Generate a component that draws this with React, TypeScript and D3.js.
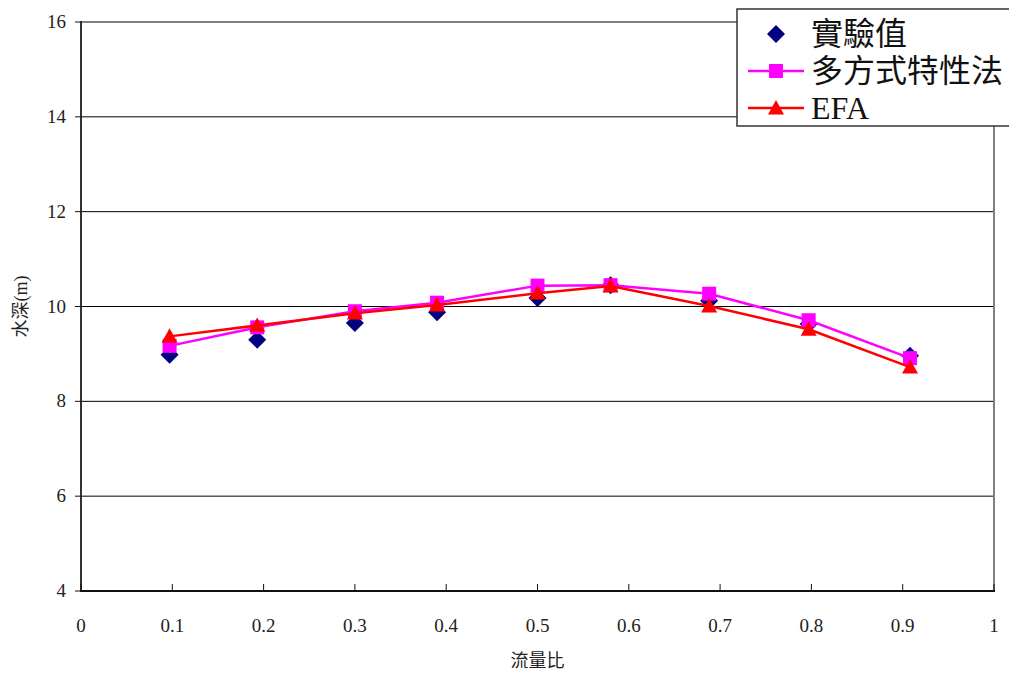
import * as d3 from 'd3'

const flowRatio = [0.097, 0.193, 0.3, 0.39, 0.5, 0.58, 0.688, 0.797, 0.908]
const measured = [8.98, 9.3, 9.65, 9.88, 10.18, 10.45, 10.12, 9.63, 8.96]
const polyMethod = [9.17, 9.56, 9.9, 10.08, 10.44, 10.45, 10.27, 9.71, 8.91]
const efa = [9.37, 9.6, 9.86, 10.03, 10.28, 10.43, 10.01, 9.52, 8.72]
const xTicks = [0, 0.1, 0.2, 0.3, 0.4, 0.5, 0.6, 0.7, 0.8, 0.9, 1]
const yTicks = [4, 6, 8, 10, 12, 14, 16]
const legendLabels = ['實驗值', '多方式特性法', 'EFA']

const W = 1009
const H = 674
const PLOT = { left: 81, right: 994, top: 22, bottom: 591 }
const FONT = '"Liberation Serif", "Noto Sans CJK TC", serif'

export default function App() {
  const x = d3.scaleLinear().domain([0, 1]).range([PLOT.left, PLOT.right])
  const y = d3.scaleLinear().domain([4, 16]).range([PLOT.bottom, PLOT.top])

  const line = d3.line<number>()
    .x((_, i) => x(flowRatio[i]))
    .y(d => y(d))

  const diamond = (cx: number, cy: number, r: number) =>
    `M${cx},${cy - r}L${cx + r},${cy}L${cx},${cy + r}L${cx - r},${cy}Z`
  const triangle = (cx: number, cy: number, r: number) =>
    `M${cx},${cy - r}L${cx + r},${cy + r * 0.8}L${cx - r},${cy + r * 0.8}Z`

  const legendY = [34, 71, 108]

  return (
    <svg width={W} height={H} style={{ position: 'absolute', left: 0, top: 0, background: '#fff' }}>
      {/* 그리드 */}
      {yTicks.filter(t => t > 4 && t < 16).map(t => (
        <line key={t} x1={PLOT.left} x2={PLOT.right} y1={y(t)} y2={y(t)} stroke="#000" strokeWidth={1} />
      ))}
      {/* 테두리 (위/오른쪽) */}
      <line x1={PLOT.left} x2={PLOT.right} y1={PLOT.top} y2={PLOT.top} stroke="#808080" strokeWidth={2} />
      <line x1={PLOT.right} x2={PLOT.right} y1={PLOT.top} y2={PLOT.bottom} stroke="#808080" strokeWidth={2} />
      {/* 축 */}
      <line x1={PLOT.left} x2={PLOT.left} y1={PLOT.top - 1} y2={PLOT.bottom + 1} stroke="#333" strokeWidth={2} />
      <line x1={PLOT.left} x2={PLOT.right + 1} y1={PLOT.bottom} y2={PLOT.bottom} stroke="#111" strokeWidth={2} />
      {yTicks.map(t => (
        <g key={t}>
          <line x1={PLOT.left - 6} x2={PLOT.left} y1={y(t)} y2={y(t)} stroke="#111" strokeWidth={1} />
          <text x={66} y={y(t) + 6} textAnchor="end" fontFamily={FONT} fontSize={19} fill="#222">{t}</text>
        </g>
      ))}
      {xTicks.map(t => (
        <g key={t}>
          <line x1={x(t)} x2={x(t)} y1={PLOT.bottom - 7} y2={PLOT.bottom} stroke="#111" strokeWidth={1} />
          <text x={x(t)} y={632} textAnchor="middle" fontFamily={FONT} fontSize={19} fill="#222">{t}</text>
        </g>
      ))}
      <text x={(PLOT.left + PLOT.right) / 2} y={667} textAnchor="middle" fontFamily={FONT} fontSize={18} fill="#222">流量比</text>
      <text transform={`translate(27,${y(10)}) rotate(-90)`} textAnchor="middle" fontFamily={FONT} fontSize={18} fill="#222">水深(m)</text>

      {/* 실험값 */}
      {measured.map((v, i) => (
        <path key={i} d={diamond(x(flowRatio[i]), y(v), 9)} fill="#000080" />
      ))}
      {/* 다방식특성법 */}
      <path d={line(polyMethod) ?? ''} fill="none" stroke="#ff00ff" strokeWidth={2.5} />
      {polyMethod.map((v, i) => (
        <rect key={i} x={x(flowRatio[i]) - 7} y={y(v) - 7} width={14} height={14} fill="#ff00ff" />
      ))}
      {/* EFA */}
      <path d={line(efa) ?? ''} fill="none" stroke="#ff0000" strokeWidth={2.5} />
      {efa.map((v, i) => (
        <path key={i} d={triangle(x(flowRatio[i]), y(v), 8)} fill="#ff0000" />
      ))}

      {/* 범례 */}
      <rect x={737} y={9} width={290} height={117} fill="#fff" stroke="#333" strokeWidth={1.5} />
      <path d={diamond(776, legendY[0], 9)} fill="#000080" />
      <line x1={748} x2={804} y1={legendY[1]} y2={legendY[1]} stroke="#ff00ff" strokeWidth={2.5} />
      <rect x={769} y={legendY[1] - 7} width={14} height={14} fill="#ff00ff" />
      <line x1={748} x2={804} y1={legendY[2]} y2={legendY[2]} stroke="#ff0000" strokeWidth={2.5} />
      <path d={triangle(776, legendY[2], 8)} fill="#ff0000" />
      {legendLabels.map((s, i) => (
        <text key={s} x={811} y={legendY[i] + 11} fontFamily={FONT} fontSize={32} fill="#111">{s}</text>
      ))}
    </svg>
  )
}
